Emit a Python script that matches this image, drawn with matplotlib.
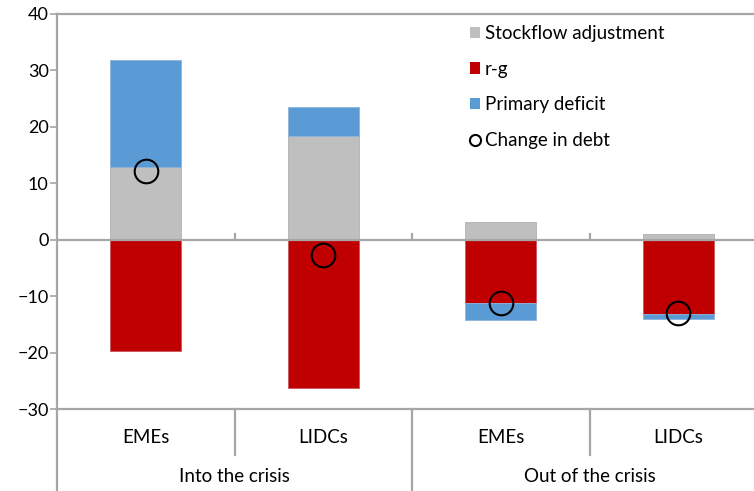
import numpy as np
import matplotlib
matplotlib.use('Agg')
import matplotlib.pyplot as plt
from matplotlib.patches import Patch
from matplotlib.lines import Line2D
import matplotlib.transforms as mtransforms

# data
groups = ['Into the crisis', 'Out of the crisis']
categories = ['EMEs', 'LIDCs', 'EMEs', 'LIDCs']
stockflow = [12.9, 18.4, 3.1, 1.0]
r_g = [-19.7, -26.3, -11.3, -13.1]
primary_deficit = [19.0, 5.1, -3.0, -1.0]
change_in_debt = [12.2, -2.7, -11.2, -13.0]

plt.rcParams['font.family'] = ['Lato', 'DejaVu Sans']

gray = '#BFBFBF'
red = '#C00000'
blue = '#5B9BD5'
axis_col = '#A6A6A6'

fig = plt.figure(figsize=(7.54, 4.91), dpi=100)
ax = fig.add_axes((57 / 754, 82 / 491, 710 / 754, 395 / 491))

x = np.arange(len(categories))
w = 0.4
sf = np.array(stockflow)
rg = np.array(r_g)
pd_ = np.array(primary_deficit)
pd_bottom = np.where(pd_ >= 0, np.clip(sf, 0, None), np.clip(rg, None, 0))

ax.bar(x, sf, w, color=gray, edgecolor='#B0B0B0', linewidth=0.6, zorder=2)
ax.bar(x, rg, w, color=red, edgecolor='#C8585A', linewidth=0.6, zorder=2)
ax.bar(x, pd_, w, bottom=pd_bottom, color=blue, edgecolor='#8DB4DC', linewidth=0.6, zorder=2)
ax.plot(x, change_in_debt, 'o', ms=17, mfc='none', mec='black', mew=1.5, zorder=4)

ax.axhline(0, color=axis_col, lw=1.6, zorder=3)
ax.set_xlim(-0.5, 3.5)
ax.set_ylim(-30, 40)
ax.set_yticks(np.arange(-30, 41, 10))
ax.tick_params(axis='y', direction='out', length=5, width=1.2, color=axis_col,
               labelsize=13, pad=1)
ax.set_xticks([])
ax.spines['right'].set_visible(False)
for s in ['top', 'bottom', 'left']:
    ax.spines[s].set_color(axis_col)
    ax.spines[s].set_linewidth(1.6)

# small tick marks on the zero line between categories
for xs in [0.5, 1.5, 2.5]:
    ax.plot([xs, xs], [0, 1.1], color=axis_col, lw=1.6, zorder=3)

# multi-level category labels below the axis
trans = mtransforms.blended_transform_factory(ax.transData, ax.transAxes)
ax.plot([-0.5, -0.5], [0, -0.21], color=axis_col, lw=1.6, transform=trans, clip_on=False)
for xs in [0.5, 2.5]:
    ax.plot([xs, xs], [0, -0.117], color=axis_col, lw=1.6, transform=trans, clip_on=False)
ax.plot([1.5, 1.5], [0, -0.21], color=axis_col, lw=1.6, transform=trans, clip_on=False)
for xi, lab in zip(x, categories):
    ax.text(xi, -0.071, lab, transform=trans, ha='center', va='center', fontsize=13.5)
for gi, g in enumerate(groups):
    ax.text(gi * 2 + 0.5, -0.17, g, transform=trans, ha='center', va='center', fontsize=13.5)

handles = [Patch(facecolor=gray, edgecolor='none'),
           Patch(facecolor=red, edgecolor='none'),
           Patch(facecolor=blue, edgecolor='none'),
           Line2D([], [], marker='o', ls='none', mfc='none', mec='black', mew=1.5, ms=8)]
labels = ['Stockflow adjustment', 'r-g', 'Primary deficit', 'Change in debt']
ax.legend(handles, labels, loc='upper left', bbox_to_anchor=(453 / 754, 1 - 8 / 491),
          bbox_transform=fig.transFigure, frameon=False, fontsize=13.5,
          handlelength=0.55, handleheight=0.55, handletextpad=0.25, labelspacing=1.0)

fig.savefig('out.png', dpi=100)
